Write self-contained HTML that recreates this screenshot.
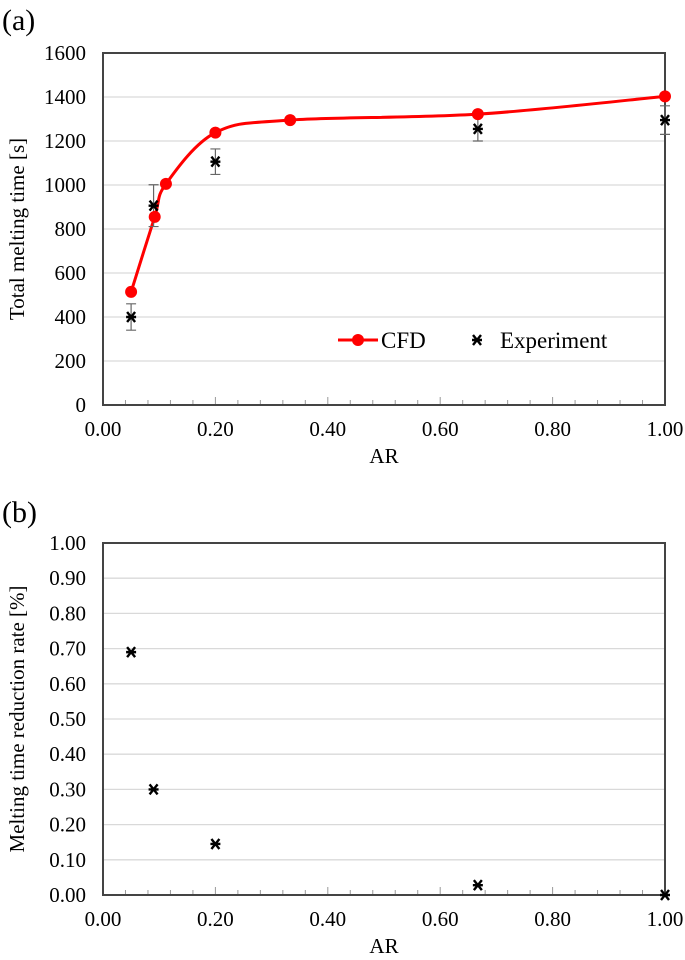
<!DOCTYPE html>
<html><head><meta charset="utf-8"><style>
html,body{margin:0;padding:0;background:#fff;}
svg{display:block;font-family:"Liberation Serif",serif;}
</style></head><body>
<svg id="s" width="685" height="960" viewBox="0 0 685 960">
<text x="2" y="30" font-size="30">(a)</text>
<text x="2" y="522" font-size="30">(b)</text>
<g id="ga"></g>
<g id="gb"></g>
</svg>
<script>
const cfdX=[0.05,0.092,0.112,0.2,0.333,0.667,1.0];
const cfdY=[514,855,1005,1238,1295,1322,1403];
const expX=[0.05,0.09,0.2,0.667,1.0];
const expY=[400,906,1106,1255,1295];
const expErr=[60,95,58,55,65];
const redX=[0.05,0.09,0.2,0.667,1.0];
const redY=[0.69,0.30,0.145,0.028,0.0];
const xTicks=["0.00","0.20","0.40","0.60","0.80","1.00"];
const yTicksA=["0","200","400","600","800","1000","1200","1400","1600"];
const yTicksB=["0.00","0.10","0.20","0.30","0.40","0.50","0.60","0.70","0.80","0.90","1.00"];
const NS="http://www.w3.org/2000/svg";
function mk(p,t,a){const e=document.createElementNS(NS,t);for(const k in a)e.setAttribute(k,a[k]);p.appendChild(e);return e;}
function star(g,cx,cy){
  const e=mk(g,'path',{d:`M${cx-4},${cy-5}L${cx+4},${cy+5}M${cx+4},${cy-5}L${cx-4},${cy+5}M${cx-5},${cy}L${cx+5},${cy}`,stroke:'#000','stroke-width':2.4,fill:'none'});
  
  
}
function axes(g,L,R,T,B,yTicks,ymax,title,ytitle){
  const X=v=>L+v*(R-L), Y=v=>B-v/ymax*(B-T);
  yTicks.forEach((t,i)=>{
    const v=parseFloat(t), y=Y(v);
    if(i>0&&i<yTicks.length-1){const l=mk(g,'line',{x1:L,x2:R,y1:y,y2:y,stroke:'#d9d9d9','stroke-width':1.3});}
    const tx=mk(g,'text',{x:L-17,y:y+7,'font-size':21,'text-anchor':'end'});tx.textContent=t;
    
  });
  for(let i=1;i<25;i++){const x=X(i*0.04);const big=(i%5===0);mk(g,'line',{x1:x,x2:x,y1:B,y2:B-(big?8:5),stroke:'#999','stroke-width':1});}
  xTicks.forEach(t=>{const tx=mk(g,'text',{x:X(parseFloat(t)),y:B+31,'font-size':21,'text-anchor':'middle'});tx.textContent=t;
    });
  const fr=mk(g,'rect',{x:L,y:T,width:R-L,height:B-T,fill:'none',stroke:'#444','stroke-width':2});
  
  const xt=mk(g,'text',{x:(L+R)/2,y:B+58,'font-size':21,'text-anchor':'middle'});xt.textContent=title;
  
  const yt=mk(g,'text',{x:0,y:0,'font-size':21,'text-anchor':'middle',transform:`translate(${L-79},${(T+B)/2}) rotate(-90)`});yt.textContent=ytitle;
  
  return [X,Y];
}
const ga=document.getElementById('ga');
const [XA,YA]=axes(ga,103,665,53,405,yTicksA,1600,'AR','Total melting time [s]');
const pts=cfdX.map((x,i)=>[XA(x),YA(cfdY[i])]);
let d=`M${pts[0][0]},${pts[0][1]}`;
for(let i=0;i<pts.length-1;i++){
  const p0=pts[Math.max(0,i-1)],p1=pts[i],p2=pts[i+1],p3=pts[Math.min(pts.length-1,i+2)];
  const t=0.5/3;
  d+=`C${p1[0]+(p2[0]-p0[0])*t},${p1[1]+(p2[1]-p0[1])*t} ${p2[0]-(p3[0]-p1[0])*t},${p2[1]-(p3[1]-p1[1])*t} ${p2[0]},${p2[1]}`;
}
const cl=mk(ga,'path',{d:d,stroke:'#ff0000','stroke-width':3,fill:'none'});

expX.forEach((x,i)=>{
  const cx=XA(x),y1=YA(expY[i]-expErr[i]),y2=YA(expY[i]+expErr[i]);
  const e=mk(ga,'path',{d:`M${cx},${y1}L${cx},${y2}M${cx-5},${y1}L${cx+5},${y1}M${cx-5},${y2}L${cx+5},${y2}`,stroke:'#666','stroke-width':1.2,fill:'none'});
  
});
pts.forEach(p=>{const c=mk(ga,'circle',{cx:p[0],cy:p[1],r:6,fill:'#ff0000'});});
expX.forEach((x,i)=>star(ga,XA(x),YA(expY[i])));
const lg=mk(ga,'g',{});

mk(lg,'line',{x1:338,x2:378,y1:340,y2:340,stroke:'#ff0000','stroke-width':3});
mk(lg,'circle',{cx:358,cy:340,r:6,fill:'#ff0000'});
const l1=mk(lg,'text',{x:381,y:348,'font-size':23});l1.textContent='CFD';
star(lg,477,340);
const l2=mk(lg,'text',{x:500,y:348,'font-size':23});l2.textContent='Experiment';
const gb=document.getElementById('gb');
const [XB,YB]=axes(gb,103,665,543,895,yTicksB,1.0,'AR','Melting time reduction rate [%]');
redX.forEach((x,i)=>star(gb,XB(x),YB(redY[i])));
</script>
</body></html>
